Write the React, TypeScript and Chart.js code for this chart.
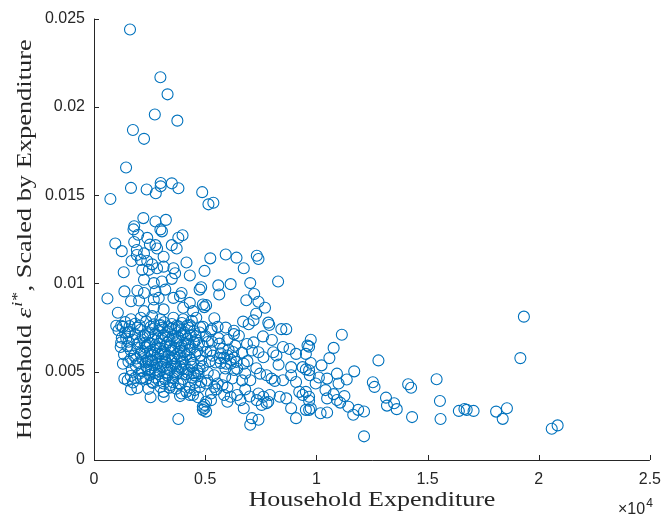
import React, { useEffect, useRef } from 'react';
import { Chart, registerables } from 'chart.js';

Chart.register(...registerables);

// Axis ticks
const xTickValues = [0, 5000, 10000, 15000, 20000, 25000];
const xTickLabels = ['0', '0.5', '1', '1.5', '2', '2.5'];
const yTickValues = [0, 0.005, 0.01, 0.015, 0.02, 0.025];
const yTickLabels = ['0', '0.005', '0.01', '0.015', '0.02', '0.025'];

const xTitle = 'Household Expenditure';
const yTitleA = 'Household ';
const yTitleEps = 'ε';
const yTitleSup = 'i*';
const yTitleB = ', Scaled by Expenditure';
const xExponent = '4';

// [expenditure, scaled epsilon]
const upperPoints: number[][] = [
  [1619, 0.02438], [2986, 0.02168], [3308, 0.02071], [2735, 0.01957], [3749, 0.01922],
  [1751, 0.01869], [2250, 0.01819], [1442, 0.01657], [1663, 0.01541], [737, 0.01478],
  [2368, 0.01532], [2779, 0.01511], [2999, 0.01569], [2999, 0.0155], [3500, 0.01567],
  [3797, 0.01539], [4866, 0.01517], [5147, 0.01448], [5368, 0.01457], [2219, 0.0137],
  [2764, 0.01351], [3233, 0.0136],
];

const highBandPoints: number[][] = [
  [1808, 0.01324], [1777, 0.01306], [2986, 0.01306], [3056, 0.01295], [1985, 0.01276],
  [2395, 0.01258], [3982, 0.01273], [3793, 0.01259], [957, 0.01226], [1248, 0.01183],
  [1808, 0.01235], [1927, 0.01189], [2514, 0.0122], [2765, 0.01217], [2836, 0.01198],
  [3497, 0.01217], [3718, 0.01198], [3131, 0.01151], [2249, 0.0117], [1927, 0.01161],
  [1689, 0.01127], [2104, 0.01133], [2395, 0.01127], [2615, 0.01108], [4159, 0.01119],
  [5230, 0.01142], [1336, 0.01063], [2174, 0.01077], [2470, 0.01077], [2836, 0.01086],
  [3131, 0.01095], [3572, 0.01086], [3647, 0.01058], [4309, 0.01045], [4970, 0.01071],
  [2249, 0.01021], [2690, 0.01002], [3056, 0.01011], [3497, 0.01026], [1954, 0.00959],
  [1367, 0.00955], [604, 0.00915], [2249, 0.00946], [2765, 0.00955], [3206, 0.00965],
  [3938, 0.00946], [4750, 0.00965], [4820, 0.00978],
  [5924, 0.01164], [6409, 0.01146], [7322, 0.01157], [7397, 0.01138], [6735, 0.01086],
  [8279, 0.01011], [7027, 0.01002], [6145, 0.00996], [5589, 0.00989], [5633, 0.00937],
  [7204, 0.0094], [6850, 0.00905], [7397, 0.00896],
];

const midBandPoints: number[][] = [
  [1663, 0.00899], [2029, 0.00903], [2690, 0.00909], [2911, 0.00918], [3572, 0.00918],
  [3868, 0.00927], [4309, 0.0089], [4895, 0.00881], [4960, 0.00866], [5042, 0.00877],
  [1072, 0.00834], [2249, 0.00843], [2690, 0.00862], [3131, 0.00853], [4013, 0.00862],
  [4454, 0.00843], [1663, 0.00797], [2104, 0.00806], [2615, 0.00815], [2986, 0.00797],
  [3572, 0.00806], [4013, 0.00797], [4600, 0.00806], [1292, 0.00754], [1954, 0.0075],
  [2986, 0.00765], [3718, 0.0076], [4309, 0.00765], [4895, 0.00754],
  [7690, 0.00862], [5412, 0.00803], [7292, 0.00828], [7174, 0.00791], [6705, 0.00784],
  [6956, 0.00769], [7883, 0.00765], [8425, 0.00741], [8646, 0.00741], [5558, 0.00754],
  [5924, 0.0075], [6295, 0.00732], [5293, 0.00741], [7839, 0.00778],
];

const leftCorePoints: number[][] = [
  [1400, 0.00781], [1850, 0.00772], [2350, 0.00785], [2700, 0.00768], [3150, 0.0078],
  [3500, 0.0077], [3950, 0.00776], [4400, 0.00788],
  [1100, 0.00735], [1600, 0.00726], [2100, 0.00738], [2500, 0.00722], [2900, 0.00733],
  [3300, 0.00728], [3650, 0.0074], [4050, 0.00724], [4500, 0.00731],
  [1250, 0.00692], [1750, 0.00681], [2200, 0.00695], [2650, 0.00684], [3050, 0.0069],
  [3400, 0.00679], [3800, 0.00693], [4200, 0.00686], [4600, 0.00681],
  [1500, 0.00645], [1950, 0.00636], [2400, 0.00648], [2800, 0.00638], [3200, 0.00644],
  [3600, 0.00634], [3950, 0.00649], [4350, 0.00639],
  [1350, 0.00598], [1800, 0.00591], [2250, 0.00603], [2600, 0.00594], [3000, 0.006],
  [3350, 0.0059], [3750, 0.00602], [4150, 0.00593], [4550, 0.00597],
  [1550, 0.00556], [2000, 0.00548], [2450, 0.00558], [2850, 0.00547], [3250, 0.00554],
  [3650, 0.00545], [4000, 0.00557], [4450, 0.0055],
  [1700, 0.0051], [2150, 0.00503], [2550, 0.00512], [2950, 0.00501], [3400, 0.00509],
  [3800, 0.005], [4250, 0.00511], [4650, 0.00504],
  [1850, 0.00465], [2350, 0.00458], [2750, 0.00467], [3200, 0.00456], [3550, 0.00463],
  [4000, 0.00459], [4400, 0.00466],
  [1950, 0.00408], [2450, 0.00403], [3400, 0.0041], [3700, 0.00404], [4300, 0.00409],
  [1600, 0.00758], [2050, 0.00762], [2550, 0.00754], [2950, 0.0076], [3350, 0.00752],
  [3800, 0.00757], [4200, 0.00761],
  [1850, 0.00712], [2300, 0.00705], [2750, 0.00715], [3150, 0.00708], [3550, 0.00702],
  [3950, 0.00711], [4350, 0.00706],
  [2050, 0.00668], [2500, 0.00662], [2950, 0.00658], [3300, 0.00665], [3700, 0.00661],
  [4100, 0.00657], [4500, 0.00664],
  [1650, 0.00622], [2150, 0.00617], [2700, 0.00624], [3100, 0.00615], [3500, 0.00621],
  [3900, 0.00618], [4300, 0.00625],
  [1900, 0.00575], [2400, 0.00571], [2800, 0.0058], [3200, 0.00569], [3550, 0.00577],
  [3950, 0.00572], [4350, 0.00568],
  [2350, 0.0053], [2700, 0.00535], [3100, 0.00527], [3500, 0.00532], [3900, 0.00526],
  [4400, 0.00529],
  [2500, 0.00482], [2900, 0.00487], [3300, 0.00479], [3700, 0.00484], [4150, 0.00486],
  [4550, 0.00478],
  [2650, 0.00436], [3550, 0.0044], [3900, 0.00431], [4550, 0.00437],
  [1000, 0.0076], [1222, 0.0076], [1222, 0.00666], [1513, 0.00722], [1954, 0.00657],
  [2104, 0.00601], [2324, 0.00638], [2545, 0.00564], [1662, 0.00573], [2029, 0.00489],
  [2104, 0.00461], [1367, 0.00461], [1514, 0.00452], [1662, 0.004], [2765, 0.00508],
  [2911, 0.00452], [3131, 0.00433], [2986, 0.00414], [3131, 0.00386], [3426, 0.00424],
  [3793, 0.00433], [3938, 0.00377], [4159, 0.00386], [4454, 0.00368], [4529, 0.00396],
  [4895, 0.00302], [5042, 0.0033], [4750, 0.00414], [2545, 0.00355], [2618, 0.00442],
  [3132, 0.00358], [3868, 0.00362], [4309, 0.00368], [4676, 0.00355], [4971, 0.00293],
  [5042, 0.00274], [3793, 0.00232],
];

const denseBlockPoints: number[][] = [
  [2420, 0.00712], [2630, 0.00742], [2870, 0.00688], [3080, 0.00749], [3230, 0.00702],
  [3470, 0.00744], [3720, 0.00672], [3880, 0.00735], [4120, 0.00705], [4280, 0.00748],
  [2280, 0.00663], [2520, 0.00615], [2760, 0.00651], [2980, 0.00633], [3180, 0.00598],
  [3420, 0.00642], [3610, 0.00588], [3840, 0.00637], [4060, 0.00611], [4240, 0.00659],
  [2180, 0.00571], [2330, 0.00552], [2620, 0.00561], [2880, 0.00603], [3060, 0.00562],
  [3290, 0.00522], [3480, 0.00566], [3690, 0.00531], [3860, 0.00588], [4080, 0.00541],
  [4210, 0.00494], [3960, 0.00513], [3620, 0.00497], [3280, 0.00495], [3010, 0.00528],
  [2730, 0.00492], [2440, 0.00508], [2200, 0.00466], [4480, 0.00492], [4750, 0.00517],
  [4820, 0.00563], [4650, 0.00617], [4720, 0.00663], [4580, 0.00702], [4780, 0.00752],
  [5050, 0.00612], [5120, 0.00668], [5020, 0.00701],
  [5700, 0.00605], [5850, 0.0058], [6050, 0.00625], [6150, 0.00568], [5950, 0.00545],
  [6250, 0.00612], [5650, 0.00577], [6400, 0.00556],
  [1200, 0.0064], [1450, 0.00688], [1300, 0.00545], [1650, 0.00476], [1750, 0.00439],
  [1550, 0.0067], [1400, 0.0072], [1880, 0.00534],
];

const midCorePoints: number[][] = [
  [4751, 0.00722], [5262, 0.00732], [6295, 0.00713], [6515, 0.00704], [6881, 0.00657],
  [7177, 0.00666], [7104, 0.0062], [7397, 0.0061], [7618, 0.00582], [8059, 0.0061],
  [8205, 0.00592], [8793, 0.00629], [9087, 0.00601], [9603, 0.00648], [9528, 0.00601],
  [9381, 0.00526], [9674, 0.00508], [8866, 0.00526], [8866, 0.0048], [9087, 0.00442],
  [8500, 0.00452], [7984, 0.00461], [8130, 0.00448], [7764, 0.0048], [7469, 0.00489],
  [7027, 0.00452], [6735, 0.00545], [6440, 0.00517], [6145, 0.00545], [8351, 0.00358],
  [8646, 0.00349], [9232, 0.00386], [9381, 0.00368], [9674, 0.00358], [8866, 0.00293],
  [9087, 0.00237], [9674, 0.00284], [6735, 0.00293], [7104, 0.00237], [7397, 0.00228],
  [7027, 0.002], [7541, 0.00312], [7762, 0.00322], [7321, 0.00339], [7616, 0.00358],
  [7396, 0.00377], [7907, 0.00368], [7836, 0.0033], [5999, 0.0033], [5852, 0.00368],
  [6145, 0.00358], [6439, 0.00368], [6586, 0.00339], [5262, 0.00377], [5262, 0.00339],
  [4971, 0.00312], [4895, 0.00284], [5411, 0.00414], [5558, 0.00433], [5042, 0.00433],
  [4823, 0.00442],
  [4895, 0.00647], [5248, 0.00619], [5645, 0.00659], [5998, 0.00592], [5469, 0.00552],
  [5910, 0.00518], [4895, 0.0053], [5116, 0.00496], [6351, 0.00647], [6660, 0.00608],
  [6218, 0.00462], [6660, 0.00451], [5777, 0.00423], [5336, 0.00591], [4763, 0.00591],
  [5600, 0.0069], [6000, 0.0068], [5300, 0.0067], [5800, 0.0063], [6300, 0.0058],
  [6900, 0.0056], [5200, 0.0056], [5700, 0.0055], [6300, 0.0051], [6800, 0.0049],
  [5400, 0.0048], [5900, 0.0047], [7300, 0.0052], [8300, 0.0054], [8000, 0.0068],
  [7600, 0.007], [8500, 0.0064], [5500, 0.004], [6000, 0.0041], [6800, 0.004],
  [7000, 0.0036], [4700, 0.0049], [5100, 0.0045],
];

const rightPoints: number[][] = [
  [9748, 0.00681], [9674, 0.00642], [11146, 0.00709], [10777, 0.00635], [10587, 0.00577],
  [9748, 0.00549], [10234, 0.00536], [9528, 0.00513], [12792, 0.00564], [11703, 0.00502],
  [10926, 0.00489], [9704, 0.0048], [10114, 0.00467], [10484, 0.00461], [11366, 0.00456],
  [10998, 0.00433], [9969, 0.00433], [12541, 0.0044], [12616, 0.00414], [14129, 0.00429],
  [14261, 0.00409], [10410, 0.00396], [11262, 0.00362], [10777, 0.00373], [10926, 0.0034],
  [9528, 0.00386], [9674, 0.00336], [10484, 0.00349], [11072, 0.00325], [11438, 0.00302],
  [11880, 0.00284], [12144, 0.00275], [11659, 0.00256], [13132, 0.00353], [13176, 0.00308],
  [13497, 0.00321], [13615, 0.00288], [14305, 0.00243], [12144, 0.00134], [9528, 0.00284],
  [9748, 0.00293], [10190, 0.00265], [10484, 0.00269],
  [19334, 0.00812], [19175, 0.00577], [15408, 0.00457], [15558, 0.00334], [15585, 0.00232],
  [16409, 0.00278], [16660, 0.00289], [16762, 0.00284], [17071, 0.00278], [18085, 0.00274],
  [18571, 0.00293], [18381, 0.00233], [20586, 0.00177], [20851, 0.00196],
];

const allPoints = [
  ...upperPoints, ...highBandPoints, ...midBandPoints,
  ...leftCorePoints, ...denseBlockPoints, ...midCorePoints, ...rightPoints,
];

const BLUE = '#0072BD';
const AXIS = '#262626';
const TICK_FONT = '"Liberation Sans", Arial, sans-serif';
const TITLE_FONT = '"Liberation Serif", "Times New Roman", serif';

const matlabAxes = {
  id: 'matlabAxes',
  afterDraw(chart: any) {
    const { ctx, chartArea: ca, scales } = chart;
    const xs = scales.x;
    const ys = scales.y;
    ctx.save();
    ctx.strokeStyle = AXIS;
    ctx.lineWidth = 1;
    ctx.beginPath();
    ctx.moveTo(ca.left + 0.5, ca.top);
    ctx.lineTo(ca.left + 0.5, ca.bottom + 0.5);
    ctx.lineTo(ca.right, ca.bottom + 0.5);
    ctx.stroke();
    const tl = 5;
    ctx.beginPath();
    xTickValues.forEach((v) => {
      const px = Math.round(xs.getPixelForValue(v)) + 0.5;
      ctx.moveTo(px, ca.bottom);
      ctx.lineTo(px, ca.bottom - tl);
    });
    yTickValues.forEach((v) => {
      const py = Math.round(ys.getPixelForValue(v)) + 0.5;
      ctx.moveTo(ca.left, py);
      ctx.lineTo(ca.left + tl, py);
    });
    ctx.stroke();

    // x title
    ctx.fillStyle = AXIS;
    ctx.textBaseline = 'alphabetic';
    ctx.font = `22px ${TITLE_FONT}`;
    const xw = ctx.measureText(xTitle).width;
    const targetXW = 247;
    const cx = (ca.left + ca.right) / 2;
    ctx.save();
    ctx.translate(cx, 506);
    ctx.scale(targetXW / xw, 1);
    ctx.textAlign = 'center';
    ctx.fillText(xTitle, 0, 0);
    ctx.restore();

    // x10^4
    ctx.textAlign = 'left';
    ctx.font = `16px ${TICK_FONT}`;
    const base = '×10';
    const bw = ctx.measureText(base).width;
    const ex0 = 618;
    ctx.fillText(base, ex0, 514);
    ctx.font = `12px ${TICK_FONT}`;
    ctx.fillText(xExponent, ex0 + bw + 1, 507);

    // y title (rotated, with superscript)
    const fs = 22;
    const partsW = (() => {
      ctx.font = `${fs}px ${TITLE_FONT}`;
      const a = ctx.measureText(yTitleA).width;
      ctx.font = `italic ${fs}px ${TITLE_FONT}`;
      const e = ctx.measureText(yTitleEps).width;
      ctx.font = `italic ${Math.round(fs * 0.7)}px ${TITLE_FONT}`;
      const s = ctx.measureText(yTitleSup).width;
      ctx.font = `${fs}px ${TITLE_FONT}`;
      const b = ctx.measureText(yTitleB).width;
      return { a, e, s, b };
    })();
    const total = partsW.a + partsW.e + partsW.s + 2 + partsW.b;
    const targetYW = 400;
    const cy = (ca.top + ca.bottom) / 2;
    ctx.save();
    ctx.translate(31, cy);
    ctx.rotate(-Math.PI / 2);
    ctx.scale(targetYW / total, 1);
    let x = -total / 2;
    ctx.textAlign = 'left';
    ctx.font = `${fs}px ${TITLE_FONT}`;
    ctx.fillText(yTitleA, x, 0);
    x += partsW.a;
    ctx.font = `italic ${fs}px ${TITLE_FONT}`;
    ctx.fillText(yTitleEps, x, 0);
    x += partsW.e + 1;
    ctx.font = `italic ${Math.round(fs * 0.7)}px ${TITLE_FONT}`;
    ctx.fillText(yTitleSup, x, -9);
    x += partsW.s + 1;
    ctx.font = `${fs}px ${TITLE_FONT}`;
    ctx.fillText(yTitleB, x, 0);
    ctx.restore();

    ctx.restore();
  },
};

export default function App() {
  const canvasRef = useRef<HTMLCanvasElement | null>(null);

  useEffect(() => {
    document.body.style.margin = '0';
    const canvas = canvasRef.current;
    if (!canvas) return;
    const chart = new Chart(canvas, {
      type: 'scatter',
      data: {
        datasets: [
          {
            data: allPoints.map(([x, y]) => ({ x, y })),
            pointStyle: 'circle',
            pointRadius: 5.5,
            pointHoverRadius: 5.5,
            pointBorderWidth: 1.1,
            borderColor: BLUE,
            backgroundColor: 'rgba(0,0,0,0)',
            pointBackgroundColor: 'rgba(0,0,0,0)',
            pointBorderColor: BLUE,
          },
        ],
      },
      options: {
        animation: false,
        responsive: false,
        devicePixelRatio: 1,
        layout: { padding: { top: 14, right: 13, left: 0, bottom: 0 } },
        plugins: {
          legend: { display: false },
          tooltip: { enabled: false },
        },
        scales: {
          x: {
            type: 'linear',
            min: 0,
            max: 25000,
            afterFit: (s: any) => { s.height = 60; },
            afterBuildTicks: (s: any) => { s.ticks = xTickValues.map((v) => ({ value: v })); },
            grid: { display: false, drawTicks: false },
            border: { display: false },
            ticks: {
              padding: 10,
              color: AXIS,
              font: { family: TICK_FONT, size: 16 },
              maxRotation: 0,
              callback: (v: any) => xTickLabels[xTickValues.indexOf(Number(v))] ?? '',
            },
          },
          y: {
            type: 'linear',
            min: 0,
            max: 0.025,
            afterFit: (s: any) => { s.width = 94; },
            afterBuildTicks: (s: any) => { s.ticks = yTickValues.map((v) => ({ value: v })); },
            grid: { display: false, drawTicks: false },
            border: { display: false },
            ticks: {
              padding: 9,
              color: AXIS,
              font: { family: TICK_FONT, size: 16 },
              callback: (v: any) => {
                const i = yTickValues.findIndex((t) => Math.abs(t - Number(v)) < 1e-9);
                return i >= 0 ? yTickLabels[i] : '';
              },
            },
          },
        },
      },
      plugins: [matlabAxes],
    });
    return () => chart.destroy();
  }, []);

  return (
    <div style={{ width: 671, height: 520, background: '#fff' }}>
      <canvas ref={canvasRef} width={671} height={520} style={{ width: 671, height: 520, display: 'block' }} />
    </div>
  );
}
